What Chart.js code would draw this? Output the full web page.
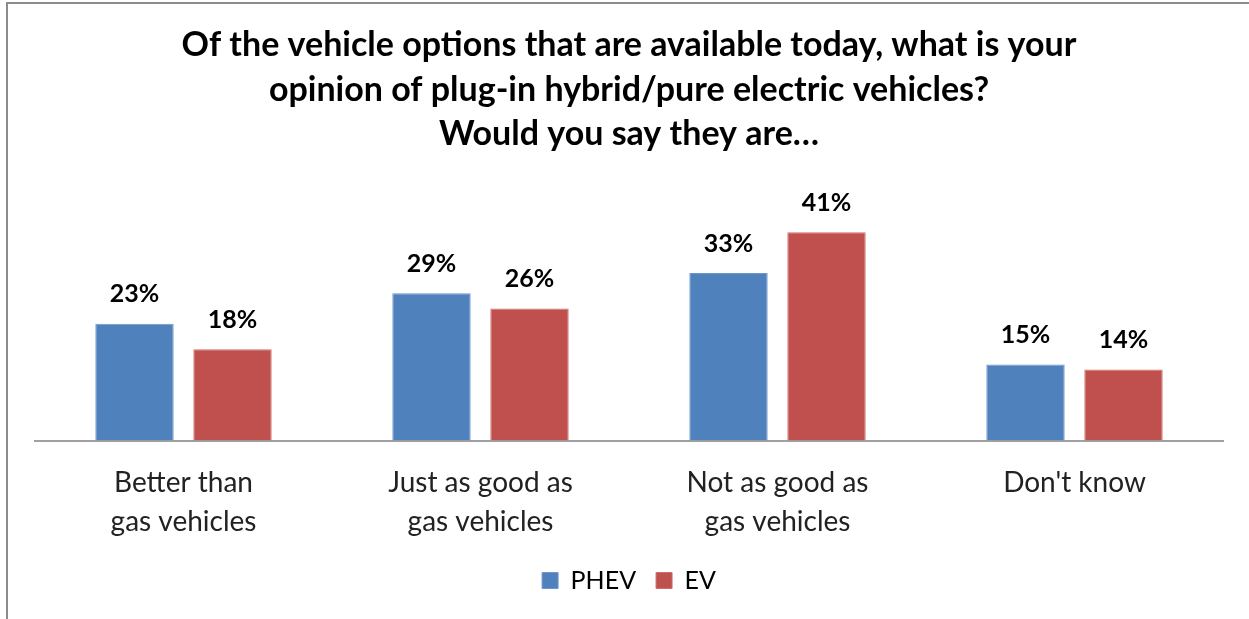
<!DOCTYPE html>
<html>
<head>
<meta charset="utf-8">
<script src="https://cdn.jsdelivr.net/npm/chart.js@4"></script>
<style>
  html, body { margin: 0; padding: 0; background: #fff; }
  #wrap { position: relative; width: 1249px; height: 619px; }
  #frame {
    position: absolute; left: 6px; top: 2px; right: 0; bottom: 0;
    border-left: 2px solid #8c8c8c; border-top: 2px solid #8c8c8c;
    pointer-events: none;
  }
</style>
</head>
<body>
<div id="wrap">
  <canvas id="barChart" width="1249" height="619"></canvas>
  <div id="frame"></div>
</div>
<script>
const titleLines = [
  'Of the vehicle options that are available today, what is your',
  'opinion of plug-in hybrid/pure electric vehicles?',
  'Would you say they are…'
];
const categories = [
  ['Better than', 'gas vehicles'],
  ['Just as good as', 'gas vehicles'],
  ['Not as good as', 'gas vehicles'],
  ["Don't know"]
];
const phevValues = [23, 29, 33, 15];
const evValues = [18, 26, 41, 14];

// percentage labels above each bar
const valueLabels = {
  id: 'valueLabels',
  afterDatasetsDraw(chart) {
    const ctx = chart.ctx;
    ctx.save();
    ctx.font = 'bold 25px Lato';
    ctx.fillStyle = '#000';
    ctx.textAlign = 'center';
    ctx.textBaseline = 'bottom';
    chart.data.datasets.forEach((ds, i) => {
      chart.getDatasetMeta(i).data.forEach((bar, j) => {
        ctx.fillText(ds.data[j] + '%', bar.x, bar.y - 17);
      });
    });
    ctx.restore();
  }
};

new Chart(document.getElementById('barChart'), {
  type: 'bar',
  data: {
    labels: categories,
    datasets: [
      { label: 'PHEV', data: phevValues, backgroundColor: '#4F81BD', borderColor: '#6f97c9', borderWidth: 1 },
      { label: 'EV', data: evValues, backgroundColor: '#C0504D', borderColor: '#cd706d', borderWidth: 1 }
    ]
  },
  options: {
    responsive: false,
    animation: false,
    layout: { padding: { left: 35, right: 26, top: 23, bottom: 16 } },
    datasets: {
      bar: { categoryPercentage: 0.66, barPercentage: 0.8 }
    },
    scales: {
      x: {
        grid: { display: false },
        border: { display: true, color: '#a0a0a0', width: 2 },
        ticks: { color: '#222', font: { family: 'Lato', size: 28, lineHeight: 1.4 }, padding: 15 },
        // pull the legend a little closer to the two-line labels
        afterFit(scale) { scale.height -= 9; }
      },
      y: { display: false, min: 0, max: 50 }
    },
    plugins: {
      title: {
        display: true,
        text: titleLines,
        color: '#000',
        font: { family: 'Lato', size: 34, weight: 'bold', lineHeight: 1.31 },
        padding: { top: 0, bottom: 30 }
      },
      legend: {
        position: 'bottom',
        labels: {
          color: '#000',
          font: { family: 'Lato', size: 25 },
          boxWidth: 16, boxHeight: 16, padding: 20
        }
      },
      tooltip: { enabled: false }
    }
  },
  plugins: [valueLabels]
});
</script>
</body>
</html>
